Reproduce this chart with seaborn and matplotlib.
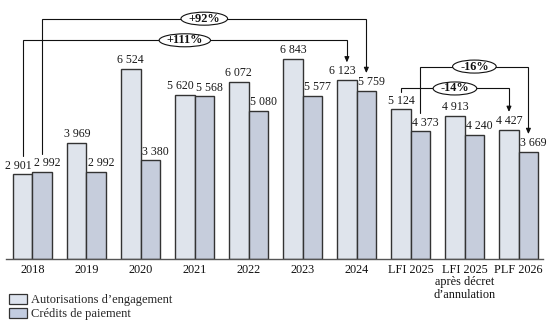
import matplotlib
matplotlib.use("Agg")
import matplotlib.pyplot as plt
from matplotlib.patches import Ellipse, Patch
import seaborn as sns
import pandas as pd
import numpy as np

categories = ["2018", "2019", "2020", "2021", "2022", "2023", "2024",
              "LFI 2025", "LFI 2025\naprès décret\nd’annulation", "PLF 2026"]
series_names = ["Autorisations d’engagement", "Crédits de paiement"]
ae_values = [2901, 3969, 6524, 5620, 6072, 6843, 6123, 5124, 4913, 4427]
cp_values = [2992, 2992, 3380, 5568, 5080, 5577, 5759, 4373, 4240, 3669]

# annotations: (from category index, from series, to category index, to series, label)
evolutions = [
    (0, 1, 6, 1, "+92%"),
    (0, 0, 6, 0, "+111%"),
    (7, 1, 9, 1, "-16%"),
    (7, 0, 9, 0, "-14%"),
]
evolution_levels = [8230, 7490, 6590, 5840]

colors = ["#dde3ee", "#c2cce0"]
edge = "#333333"

sns.set_theme(style="white")
plt.rcParams["font.family"] = ["Liberation Serif", "DejaVu Serif"]

df = pd.DataFrame({
    "cat": categories * 2,
    "serie": [series_names[0]] * len(categories) + [series_names[1]] * len(categories),
    "val": ae_values + cp_values,
})

fig = plt.figure(figsize=(5.55, 3.28), dpi=100)
ax = fig.add_axes([6 / 555, 69 / 328, (543 - 6) / 555, 259 / 328])
sns.barplot(data=df, x="cat", y="val", hue="serie", order=categories,
            hue_order=series_names, palette=colors, width=0.72,
            edgecolor=edge, linewidth=1.0, ax=ax, legend=False, errorbar=None)

ax.set_xlim(-0.49, 9.45)
ax.set_ylim(0, 8870)
ax.set_xlabel("")
ax.set_ylabel("")
ax.set_yticks([])
ax.tick_params(axis="x", length=0, labelsize=8.8, pad=3.5, colors="#111111")
for lab in ax.get_xticklabels():
    lab.set_linespacing(1.05)
for s in ["top", "right", "left"]:
    ax.spines[s].set_visible(False)
ax.spines["bottom"].set_color("#555555")
ax.spines["bottom"].set_linewidth(1.0)

def fmt(v):
    return f"{v:,}".replace(",", " ")

bars_by_series = []
for cont in ax.containers:
    bars_by_series.append(list(cont))

# value labels
for si, bars in enumerate(bars_by_series):
    vals = ae_values if si == 0 else cp_values
    for i, b in enumerate(bars):
        x = b.get_x() + b.get_width() / 2
        h = b.get_height()
        if si == 0:
            dx = -3 if abs(ae_values[i] - cp_values[i]) < 400 else 0
        else:
            dx = 3.5
        ax.annotate(fmt(vals[i]), (x, h), xytext=(dx, 2), textcoords="offset points",
                    ha="center", va="bottom", fontsize=8.6, color="#1a1a1a")

# evolution arrows
gap = 610
fig.canvas.draw()
renderer = fig.canvas.get_renderer()
for (i0, s0, i1, s1, lab), lvl in zip(evolutions, evolution_levels):
    b0 = bars_by_series[s0][i0]
    b1 = bars_by_series[s1][i1]
    x0 = b0.get_x() + b0.get_width() / 2
    x1 = b1.get_x() + b1.get_width() / 2
    y0 = b0.get_height() + gap
    y1 = b1.get_height() + gap
    ax.plot([x0, x0, x1, x1], [y0, lvl, lvl, y1 + 100], color="#111111", lw=0.8,
            solid_joinstyle="miter", zorder=3)
    ax.annotate("", xy=(x1, y1), xytext=(x1, y1 + 150),
                arrowprops=dict(arrowstyle="-|>,head_length=0.45,head_width=0.2",
                                mutation_scale=7, color="#111111", lw=0.8,
                                shrinkA=0, shrinkB=0), zorder=3)
    xm = (x0 + x1) / 2
    t = ax.text(xm, lvl, lab, ha="center", va="center", fontsize=8.8,
                fontweight="bold", color="#111111", zorder=6)
    tw = t.get_window_extent(renderer).width
    p0 = ax.transData.inverted().transform((0, 0))
    p1 = ax.transData.inverted().transform((tw + 15, 13))
    ell = Ellipse((xm, lvl), p1[0] - p0[0], p1[1] - p0[1], facecolor="white",
                  edgecolor="#111111", lw=0.8, zorder=5)
    ax.add_patch(ell)

handles = [Patch(facecolor=colors[k], edgecolor=edge, linewidth=0.9, label=series_names[k])
           for k in range(2)]
fig.legend(handles=handles, loc="upper left", bbox_to_anchor=(9 / 555, 1 - 294 / 328),
           frameon=False, fontsize=9, handlelength=1.45, handleheight=0.85,
           handletextpad=0.35, labelspacing=0.12, borderpad=0, borderaxespad=0)

fig.savefig("out.png", dpi=100)
